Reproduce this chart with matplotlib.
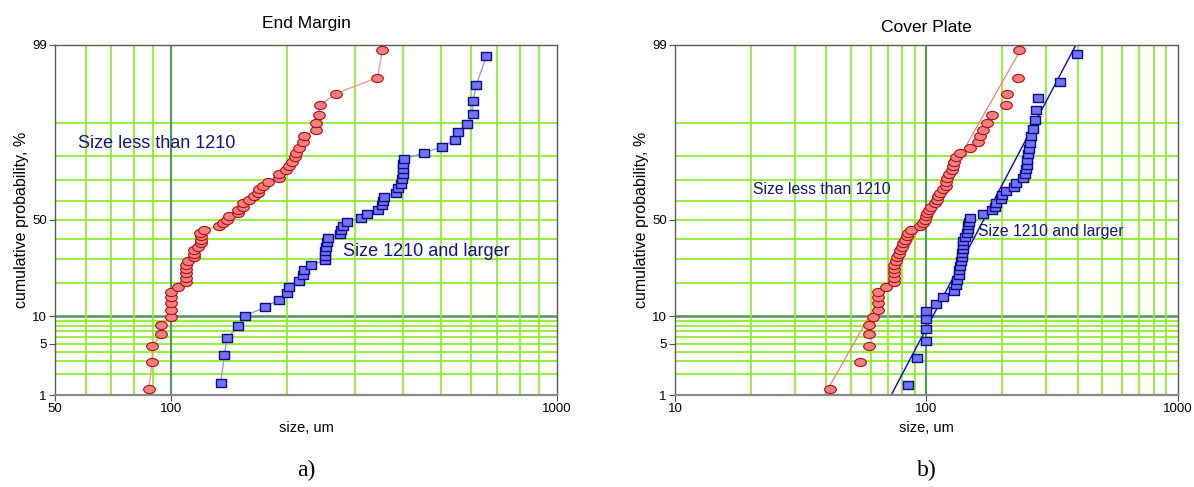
import numpy as np
import matplotlib
matplotlib.use("Agg")
import matplotlib.pyplot as plt
from matplotlib.path import Path
from statistics import NormalDist

# ---------------- data ----------------
# End Margin, size less than 1210 (sizes in um, cumulative probability in %)
em_small_size = [87.5, 89.2, 89.4, 94.4, 94.4, 100, 100, 100, 100, 100,
                 104.3, 109.2, 109.2, 109.2, 109.2, 109.2, 110.3, 114.6, 114.6, 114.6,
                 117.6, 119.2, 119.2, 119.2, 118.8, 121.9, 133.1, 136.6, 139.3, 141.3,
                 148.8, 149.4, 153.1, 153.9, 159.6, 164.2, 167.5, 169.2, 173.5, 177.8,
                 190.0, 190.6, 199.0, 201.6, 205.8, 209.0, 211.0, 214.0, 219.0, 220.7,
                 236.7, 236.7, 241.4, 242.7, 267.0, 342.4, 352.9]
em_small_prob = [1.22, 2.96, 4.70, 6.45, 8.19, 9.93, 11.67, 13.41, 15.16, 16.90,
                 18.64, 20.38, 22.13, 23.87, 25.61, 27.35, 29.09, 30.84, 32.58, 34.32,
                 36.06, 37.80, 39.55, 41.29, 43.03, 44.77, 46.52, 48.26, 50.00, 51.74,
                 53.48, 55.23, 56.97, 58.71, 60.45, 62.20, 63.94, 65.68, 67.42, 69.16,
                 70.91, 72.65, 74.39, 76.13, 77.87, 79.62, 81.36, 83.10, 84.84, 86.59,
                 88.33, 90.07, 91.81, 93.55, 95.30, 97.04, 98.78]

# End Margin, size 1210 and larger
em_large_size = [134.4, 137.4, 139.6, 149.4, 155.6, 175.0, 190.0, 199.7, 201.6, 214.2,
                 219.8, 220.7, 229.7, 249.8, 249.8, 249.8, 251.3, 253.7, 255.0, 273.4,
                 276.0, 279.3, 285.1, 311.2, 321.4, 344.0, 351.6, 354.4, 356.5, 382.4,
                 387.7, 394.0, 395.5, 397.9, 399.5, 400.1, 402.0, 453.3, 502.8, 544.7,
                 553.3, 585.4, 605.4, 605.4, 617.9, 656.0]
em_large_prob = [1.51, 3.66, 5.82, 7.97, 10.13, 12.28, 14.44, 16.59, 18.75, 20.91,
                 23.06, 25.22, 27.37, 29.53, 31.68, 33.84, 35.99, 38.15, 40.30, 42.46,
                 44.61, 46.77, 48.92, 51.08, 53.23, 55.39, 57.54, 59.70, 61.85, 64.01,
                 66.16, 68.32, 70.47, 72.63, 74.78, 76.94, 79.09, 81.25, 83.41, 85.56,
                 87.72, 89.87, 92.03, 94.18, 96.34, 98.49]

# Cover Plate, size less than 1210
cp_small_size = [41.4, 54.2, 59.3, 59.3, 59.3, 61.2, 64.0, 64.0, 64.0, 64.0,
                 69.2, 74.6, 74.6, 74.6, 74.6, 74.6, 75.3, 76.2, 77.6, 78.6,
                 80.0, 81.0, 82.5, 83.8, 84.8, 86.9, 93.8, 96.7, 98.2, 99.7,
                 100.5, 102.0, 104.4, 107.6, 109.9, 110.9, 113.0, 116.0, 119.0, 119.8,
                 120.4, 122.7, 126.5, 128.0, 129.2, 131.0, 135.3, 148.3, 160.0, 162.5,
                 167.5, 173.7, 182.5, 206.2, 208.6, 230.7, 232.8]
cp_small_prob = em_small_prob

# Cover Plate, size 1210 and larger
cp_large_size = [84.8, 91.8, 100, 100, 100, 100, 108.6, 116.1, 129.2, 131.3,
                 132.5, 134.1, 134.5, 135.3, 137.4, 138.1, 138.6, 139.4, 139.4, 140.3,
                 142.9, 144.6, 146.0, 146.0, 147.3, 148.3, 167.5, 182.5, 186.4, 188.1,
                 198.2, 200.0, 207.5, 223.8, 227.3, 243.0, 245.3, 249.2, 250.5, 251.2,
                 252.6, 255.2, 256.8, 260.9, 264.7, 268.9, 273.1, 278.8, 341.0, 396.0]
cp_large_prob = [1.39, 3.37, 5.36, 7.34, 9.33, 11.31, 13.29, 15.28, 17.26, 19.25,
                 21.23, 23.21, 25.20, 27.18, 29.17, 31.15, 33.13, 35.12, 37.10, 39.09,
                 41.07, 43.06, 45.04, 47.02, 49.01, 50.99, 52.98, 54.96, 56.94, 58.93,
                 60.91, 62.90, 64.88, 66.87, 68.85, 70.83, 72.82, 74.80, 76.79, 78.77,
                 80.75, 82.74, 84.72, 86.71, 88.69, 90.67, 92.66, 94.64, 96.63, 98.61]

# fitted lines of panel b): size at 1 % and at 99 %
fit_prob = [1, 99]
cp_small_fit = [39.3, 243.3]
cp_large_fit = [72.4, 393.6]

y_ticks = [1, 5, 10, 50, 99]
y_grid = [1, 2, 3, 4, 5, 6, 7, 8, 9, 10, 20, 30, 40, 50, 60, 70, 80, 90]

# ---------------- probability scale ----------------
ND = NormalDist()


def fwd(p):
    p = np.asarray(p, dtype=float)
    flat = []
    for v in p.ravel():
        if not np.isfinite(v):
            flat.append(np.nan)
        else:
            v = min(max(v / 100.0, 1e-9), 1 - 1e-9)
            flat.append(ND.inv_cdf(v))
    return np.array(flat).reshape(p.shape)


def inv(z):
    z = np.asarray(z, dtype=float)
    flat = [ND.cdf(v) * 100 if np.isfinite(v) else np.nan for v in z.ravel()]
    return np.array(flat).reshape(z.shape)


circ = Path.unit_circle()
ellipse = Path(circ.vertices * np.array([1.0, 0.70]), circ.codes)
rect = Path([(-1, -0.78), (1, -0.78), (1, 0.78), (-1, 0.78), (-1, -0.78)],
            [Path.MOVETO, Path.LINETO, Path.LINETO, Path.LINETO, Path.CLOSEPOLY])

GREEN = "#86ee1c"
DARK = "#4e9a50"
NAVY = "#14147e"
RED_FACE = "#f38080"
RED_EDGE = "#b40c0c"
BLUE_FACE = "#7272f2"
BLUE_EDGE = "#0a0a8c"

plt.rcParams["font.family"] = ["Liberation Sans", "DejaVu Sans"]

W, H = 1194, 487
fig = plt.figure(figsize=(W / 100, H / 100), dpi=100)


def make_axes(left_px, right_px, xmin, xmax, xgrid, title, letter, title_pad):
    top_px, bot_px = 44.5, 395
    ax = fig.add_axes([left_px / W, 1 - bot_px / H, (right_px - left_px) / W, (bot_px - top_px) / H])
    ax.set_xscale("log")
    ax.set_yscale("function", functions=(fwd, inv))
    ax.set_xlim(xmin, xmax)
    ax.set_ylim(1, 99)
    for g in y_grid:
        if g in (1,):
            continue
        ax.axhline(g, color=DARK if g == 10 else GREEN, lw=1.8 if g == 10 else 1.2, zorder=0.5)
    for g in xgrid:
        ax.axvline(g, color=DARK if g == 100 else GREEN, lw=1.5 if g == 100 else 1.2, zorder=0.5)
    ax.set_yticks(y_ticks)
    ax.set_yticklabels([str(t) for t in y_ticks])
    ax.set_yticks([], minor=True)
    ax.set_xticks([xmin, 100, 1000])
    ax.set_xticklabels([str(xmin), "100", "1000"])
    ax.set_xticks([], minor=True)
    ax.tick_params(axis="both", labelsize=9.5, length=4, width=0.8, color="#505050", pad=2)
    for s in ("top", "right", "left"):
        ax.spines[s].set_color("#5a5a5a")
        ax.spines[s].set_linewidth(1.0)
    ax.spines["bottom"].set_color("#8a8a8a")
    ax.spines["bottom"].set_linewidth(1.6)
    ax.set_title(title, fontsize=12.5, pad=title_pad)
    ax.set_xlabel("size, um", fontsize=10.5, labelpad=4)
    ax.set_ylabel("cumulative probability, %", fontsize=11.5, labelpad=2)
    fig.text((left_px + right_px) / 2 / W, 1 - 470 / H, letter, ha="center", va="center",
             fontsize=17, family=["Liberation Serif", "DejaVu Serif"])
    return ax


# ---------------- panel a) ----------------
ax1 = make_axes(55, 557, 50, 1000,
                [60, 70, 80, 90, 100, 200, 300, 400, 500, 600, 700, 800, 900],
                "End Margin", "a)", 12)
ax1.plot(em_small_size, em_small_prob, "-", color="#ff8e8e", lw=0.9, zorder=2)
ax1.plot(em_small_size, em_small_prob, ls="none", marker=ellipse, ms=8.4,
         mfc=RED_FACE, mec=RED_EDGE, mew=0.8, zorder=3)
ax1.plot(em_large_size, em_large_prob, "-", color="#8e8eff", lw=0.9, zorder=2)
ax1.plot(em_large_size, em_large_prob, ls="none", marker=rect, ms=7.8,
         mfc=BLUE_FACE, mec=BLUE_EDGE, mew=1.0, zorder=3)
ax1.text(78 / W, 1 - 143 / H, "Size less than 1210", transform=fig.transFigure,
         color=NAVY, fontsize=13, va="center", ha="left")
ax1.text(343 / W, 1 - 252 / H, "Size 1210 and larger", transform=fig.transFigure,
         color=NAVY, fontsize=13, va="center", ha="left")

# ---------------- panel b) ----------------
ax2 = make_axes(675, 1178, 10, 1000,
                [20, 30, 40, 50, 60, 70, 80, 90, 100, 200, 300, 400, 500, 600, 700, 800, 900],
                "Cover Plate", "b)", 9)
ax2.plot(cp_small_fit, fit_prob, "-", color="#ff7a7a", lw=0.9, zorder=2)
ax2.plot(cp_large_fit, fit_prob, "-", color="#0000ff", lw=1.0, zorder=2)
ax2.plot(cp_small_size, cp_small_prob, ls="none", marker=ellipse, ms=8.4,
         mfc=RED_FACE, mec=RED_EDGE, mew=0.8, zorder=3)
ax2.plot(cp_large_size, cp_large_prob, ls="none", marker=rect, ms=7.8,
         mfc=BLUE_FACE, mec=BLUE_EDGE, mew=1.0, zorder=3)
ax2.text(753 / W, 1 - 190 / H, "Size less than 1210", transform=fig.transFigure,
         color=NAVY, fontsize=11.3, va="center", ha="left")
ax2.text(978 / W, 1 - 232 / H, "Size 1210 and larger", transform=fig.transFigure,
         color=NAVY, fontsize=11.3, va="center", ha="left")

fig.savefig("out.png", dpi=100)
